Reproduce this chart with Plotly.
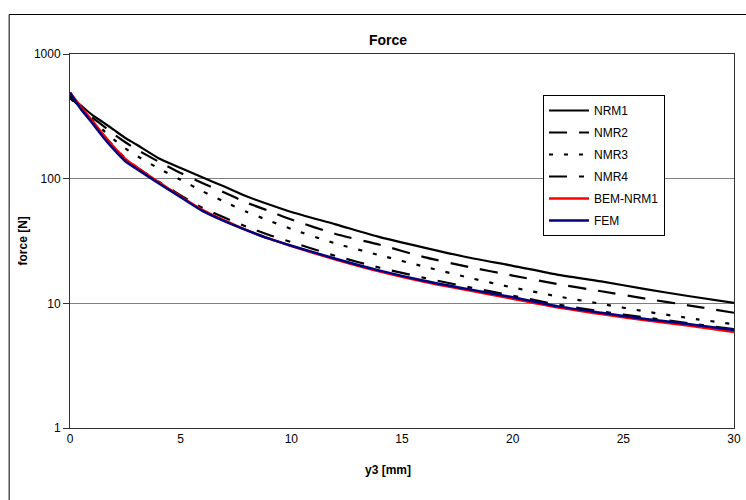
import plotly.graph_objects as go

y3 = [0, 0.5, 1, 1.5, 2, 2.5, 3, 4, 5, 6, 7, 8, 9, 10, 12, 14, 16, 18, 20, 22, 24, 26, 28, 30]

nrm1 = [455, 385, 325, 283, 245, 212, 188, 146, 122, 102, 86, 72, 62, 54, 43, 34, 28, 23.3, 20, 17, 15, 13, 11.4, 10.1]
nmr2 = [450, 370, 310, 265, 226, 196, 172, 137, 111, 92, 77, 64, 55, 47, 36, 29.5, 23.5, 19.6, 16.7, 14.3, 12.5, 10.9, 9.6, 8.4]
nmr3 = [445, 360, 295, 245, 205, 175, 153, 121, 98, 79, 65, 54, 46, 39.5, 30.2, 24.3, 19.7, 16.1, 13.4, 11.4, 9.9, 8.6, 7.6, 6.8]
nmr4 = [470, 368, 288, 225, 180, 146, 124, 95, 73.5, 58, 48.5, 41, 35.3, 31, 24, 19.3, 16, 13.5, 11.5, 9.8, 8.6, 7.7, 6.9, 6.2]
bem_nrm1 = [490, 375, 292, 226, 178, 144, 124, 94, 72, 56, 46, 38.5, 33, 28.8, 22.5, 18, 14.9, 12.7, 10.9, 9.3, 8.2, 7.3, 6.6, 5.9]
fem = [490, 360, 280, 215, 170, 138, 120, 92, 71, 55, 45.5, 38.5, 33, 29, 22.8, 18.3, 15.2, 13.0, 11.2, 9.5, 8.4, 7.5, 6.8, 6.1]

series = [
    ("NRM1", nrm1, "black", "solid", 2.2),
    ("NMR2", nmr2, "black", "18px,12px", 2.2),
    ("NMR3", nmr3, "black", "4px,11px", 2.2),
    ("NMR4", nmr4, "black", "18px,12px,5px,12px", 2.2),
    ("BEM-NRM1", bem_nrm1, "#ff0000", "solid", 2.5),
    ("FEM", fem, "#000080", "solid", 2.5),
]

fig = go.Figure()
for name, vals, color, dash, w in series:
    fig.add_trace(go.Scatter(
        x=y3, y=vals, name=name, mode="lines", legendgroup=name,
        line=dict(color=color, dash=dash, width=w, shape="spline", smoothing=0.6),
    ))

FONT = "Liberation Sans, Arial, sans-serif"
W, H = 746, 500
# target plot area in window pixels (body margin removed below)
X0, X1, Y0, Y1 = 70, 741, 54, 428
L, T = X0, Y0
R = W - X1
B = H - Y1
pw, ph = X1 - X0, Y1 - Y0

def px(x):
    return (x - X0) / pw

def py(y):
    return (Y1 - y) / ph

fig.update_layout(
    width=W, height=H,
    margin=dict(l=L, r=R, t=T, b=B),
    paper_bgcolor="white", plot_bgcolor="white",
    font=dict(family=FONT, size=12, color="black"),
    showlegend=True,
    legend=dict(
        x=px(548), y=py(95), xanchor="left", yanchor="top",
        bgcolor="white", bordercolor="black", borderwidth=1,
        font=dict(family=FONT, size=12, color="black"),
        tracegroupgap=3, itemwidth=40,
    ),
    xaxis=dict(
        range=[0, 30], dtick=5, tick0=0,
        showgrid=False, zeroline=False,
        showline=True, linecolor="#333333", linewidth=1, mirror=True,
        ticks="", tickfont=dict(family=FONT, size=12, color="black"),
        ticklabeloverflow="allow",
    ),
    yaxis=dict(
        type="log", range=[0, 3],
        tickvals=[1, 10, 100, 1000], ticktext=["1", "10", "100", "1000"],
        showgrid=True, gridcolor="#808080", gridwidth=1,
        zeroline=False,
        showline=True, linecolor="#333333", linewidth=1, mirror=True,
        ticks="outside", ticklen=6, tickcolor="#333333",
        tickfont=dict(family=FONT, size=12, color="black"),
    ),
    annotations=[
        dict(text="<b>Force</b>", xref="paper", yref="paper",
             x=px(391), y=py(40), xanchor="center", yanchor="middle",
             showarrow=False, font=dict(family=FONT, size=14, color="black")),
        dict(text="<b>y3 [mm]</b>", xref="paper", yref="paper",
             x=px(391), y=py(470), xanchor="center", yanchor="middle",
             showarrow=False, font=dict(family=FONT, size=12, color="black")),
        dict(text="<b>force [N]</b>", xref="paper", yref="paper",
             x=px(22), y=py(241), xanchor="center", yanchor="middle",
             textangle=-90,
             showarrow=False, font=dict(family=FONT, size=12, color="black")),
    ],
    shapes=[
        dict(type="rect", xref="paper", yref="paper",
             x0=px(8.5), x1=px(770), y0=py(520), y1=py(14.5),
             line=dict(color="black", width=1), fillcolor="rgba(0,0,0,0)",
             layer="below"),
    ],
)

fig.write_html(
    "out.html",
    config={"displayModeBar": False},
    post_script="document.body.style.margin='0';document.body.style.overflow='hidden';",
)
